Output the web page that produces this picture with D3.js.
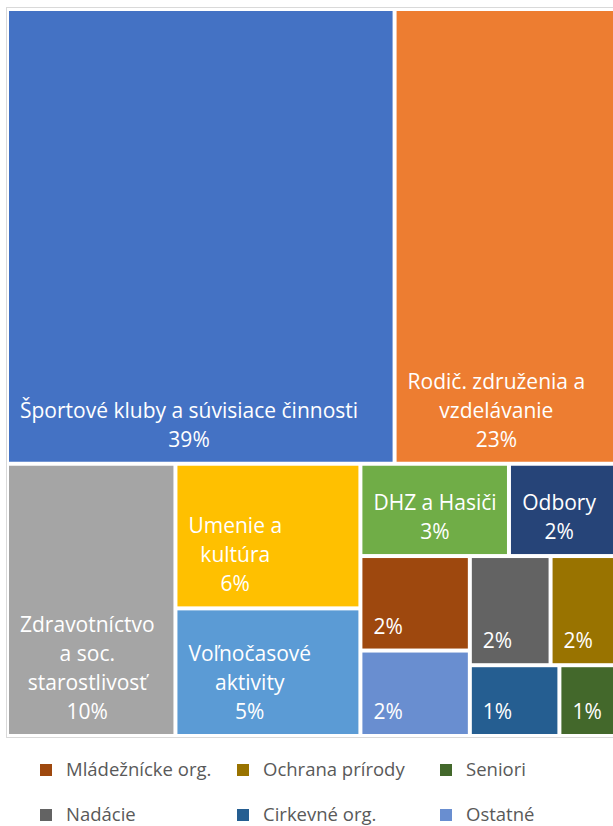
<!DOCTYPE html>
<html>
<head>
<meta charset="utf-8">
<script src="https://cdn.jsdelivr.net/npm/d3@7"></script>
<style>
  body { margin: 0; background: #fff; }
  svg { display: block; font-family: "Open Sans", sans-serif; }
</style>
</head>
<body>
<svg width="613" height="826"></svg>
<script>
const categories = [
  "Športové kluby a súvisiace činnosti", "Rodič. združenia a vzdelávanie",
  "Zdravotníctvo a soc. starostlivosť", "Umenie a kultúra", "Voľnočasové aktivity",
  "DHZ a Hasiči", "Odbory", "Mládežnícke org.", "Ostatné", "Nadácie",
  "Ochrana prírody", "Cirkevné org.", "Seniori"
];
const values = [39.2, 22.9, 10.2, 5.95, 5.25, 3.05, 2.3, 2.3, 2.08, 1.96, 1.71, 1.41, 0.97];
const colors = [
  "#4472C4", "#ED7D31", "#A5A5A5", "#FFC000", "#5B9BD5", "#70AD47", "#264478",
  "#9E480E", "#698ED0", "#636363", "#997300", "#255E91", "#43682B"
];
// name lines as wrapped in the picture; small tiles only show the percentage
const labelLines = [
  ["Športové kluby a súvisiace činnosti"], ["Rodič. združenia a", "vzdelávanie"],
  ["Zdravotníctvo", "a soc.", "starostlivosť"], ["Umenie a", "kultúra"],
  ["Voľnočasové", "aktivity"], ["DHZ a Hasiči"], ["Odbory"], [], [], [], [], [], []
];
const legendItems = ["Mládežnícke org.", "Ochrana prírody", "Seniori", "Nadácie", "Cirkevné org.", "Ostatné"];

// grouping of the tiles: "v" = stacked, "h" = side by side
const layout = ["v", ["h", 0, 1], ["h", 2, ["v", 3, 4],
  ["v", ["h", 5, 6], ["h", ["v", 7, 8], ["v", ["h", 9, 10], ["h", 11, 12]]]]]];

const total = d3.sum(values);
const pct = d3.format(".0%");

function toNode(x) {
  if (typeof x === "number") return { i: x, value: values[x] };
  return { dir: x[0], children: x.slice(1).map(toNode) };
}

const root = d3.hierarchy(toNode(layout)).sum(d => d.children ? 0 : d.value);

d3.treemap()
  .tile((node, x0, y0, x1, y1) =>
    (node.data.dir === "h" ? d3.treemapDice : d3.treemapSlice)(node, x0, y0, x1, y1))
  .size([610, 723])
  .paddingInner(4)(root);

const svg = d3.select("svg");

// plot frame
svg.append("rect")
  .attr("x", 6.5).attr("y", 7.5)
  .attr("width", 640).attr("height", 730)
  .attr("fill", "none")
  .attr("stroke", "#D9D9D9");

const g = svg.append("g").attr("transform", "translate(9,11)");

const leaf = g.selectAll("g.leaf")
  .data(root.leaves())
  .join("g")
  .attr("class", "leaf");

leaf.append("rect")
  .attr("x", d => d.x0)
  .attr("y", d => d.y0)
  .attr("width", d => d.x1 - d.x0)
  .attr("height", d => d.y1 - d.y0)
  .attr("fill", d => colors[d.data.i]);

const lineH = 29;
leaf.each(function (d) {
  const lines = labelLines[d.data.i].concat(pct(values[d.data.i] / total));
  const t = d3.select(this).append("text")
    .attr("fill", "#fff")
    .attr("font-size", 21)
    .attr("text-anchor", "middle");
  t.selectAll("tspan")
    .data(lines)
    .join("tspan")
    .attr("x", 0)
    .attr("y", (l, k) => (k - lines.length + 1) * lineH)
    .text(l => l);
  const w = t.node().getBBox().width;
  t.attr("transform", `translate(${d.x0 + 11 + w / 2},${d.y1 - 15})`);
});

// legend
const legend = svg.append("g");
const colX = [40, 237, 440];
const rowY = [770, 815];
legendItems.forEach((name, k) => {
  const x = colX[k % 3], y = rowY[Math.floor(k / 3)];
  const item = legend.append("g").attr("transform", `translate(${x},${y})`);
  item.append("rect")
    .attr("x", 0).attr("y", -6)
    .attr("width", 12).attr("height", 12)
    .attr("fill", colors[categories.indexOf(name)]);
  item.append("text")
    .attr("x", 26).attr("y", 0)
    .attr("dy", "0.35em")
    .attr("font-size", 18.5)
    .attr("fill", "#595959")
    .text(name);
});
</script>
</body>
</html>
